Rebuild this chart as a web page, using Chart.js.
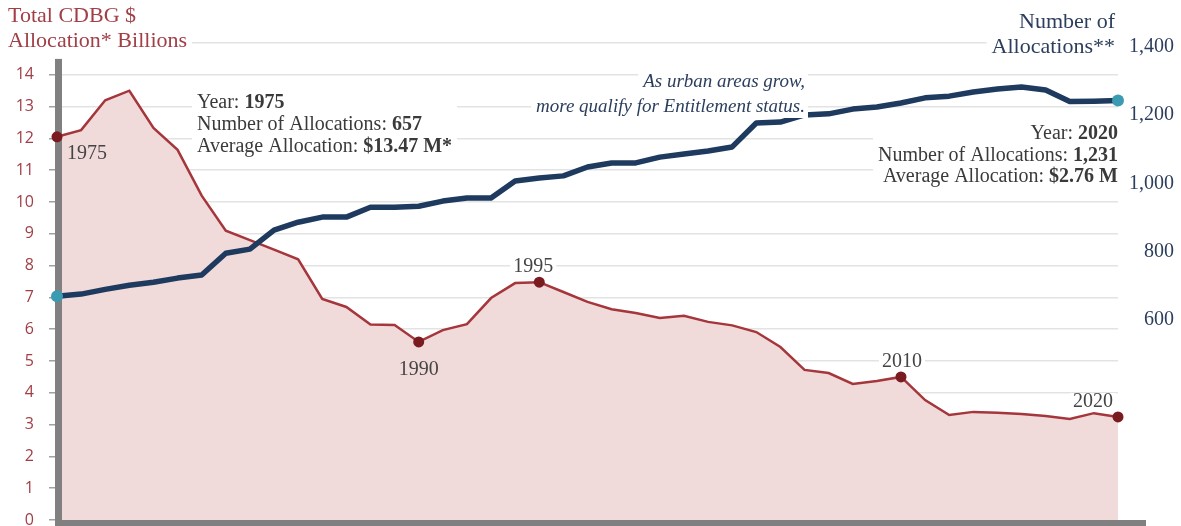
<!DOCTYPE html>
<html>
<head>
<meta charset="utf-8">
<script src="https://cdn.jsdelivr.net/npm/chart.js@4.4.1/dist/chart.umd.min.js"></script>
<style>
  html, body { margin: 0; padding: 0; background: #fff; }
</style>
</head>
<body>
<canvas id="cdbgChart" width="1181" height="526"></canvas>
<script>
// Datos (45 puntos, 1975-2020)
const years = [
  1975, 1976, 1977, 1978, 1979, 1980, 1981, 1982, 1983, 1984,
  1985, 1986, 1987, 1988, 1989, 1990, 1991, 1992, 1993, 1994,
  1995, 1996, 1997, 1998, 1999, 2000, 2001, 2002, 2003, 2004,
  2005, 2006, 2007, 2008, 2009, 2010, 2012, 2013, 2014, 2015,
  2016, 2017, 2018, 2019, 2020
];
const allocationBillions = [
  12.05, 12.26, 13.2, 13.5, 12.33, 11.64, 10.2, 9.1, 8.8, 8.5,
  8.2, 6.95, 6.7, 6.15, 6.13, 5.6, 5.97, 6.16, 6.98, 7.45,
  7.48, 7.17, 6.86, 6.63, 6.51, 6.35, 6.42, 6.23, 6.12, 5.91,
  5.44, 4.72, 4.62, 4.28, 4.37, 4.5, 3.77, 3.3, 3.4, 3.37,
  3.33, 3.27, 3.18, 3.36, 3.24
];
const allocationCount = [
  657, 663, 677, 689, 698, 710, 719, 783, 795, 851,
  874, 889, 889, 918, 918, 921, 936, 945, 945, 995,
  1004, 1010, 1036, 1048, 1048, 1065, 1074, 1083, 1095, 1165,
  1168, 1189, 1192, 1206, 1212, 1224, 1239, 1244, 1256, 1265,
  1271, 1262, 1228, 1229, 1231
];
const markedYears = [1975, 1990, 1995, 2010, 2020];
const countMarkedYears = [1975, 2020];
const leftTickMax = 14;
const rightTickMin = 600;

const SERIF = "'Liberation Serif', 'Times New Roman', serif";
const SANS = "'Open Sans', 'Noto Sans', sans-serif";

const Colors = {
    red: '#a5363b',
    redDot: '#7a1b20',
    pink: '#f1dada',
    navy: '#1e3a5f',
    cyan: '#3b9bb3',
    axisRed: '#a13e46',
    axisNavy: '#2c3e5d',
    text: '#3a3a3a',
    grid: '#e3e3e3',
    bar: '#808080'
};

const allocMarkers = years.map((y, i) => markedYears.includes(y) ? allocationBillions[i] : null);
const countMarkers = years.map((y, i) => countMarkedYears.includes(y) ? allocationCount[i] : null);

/**
 * Texto con partes en negrita
 */
function drawRich(ctx, parts, x, y, align, size) {
    const widths = parts.map(p => {
        ctx.font = (p[1] ? 'bold ' : '') + size + 'px ' + SERIF;
        return ctx.measureText(p[0]).width;
    });
    const total = widths.reduce((a, b) => a + b, 0);
    let cx = align === 'right' ? x - total : x;
    ctx.textAlign = 'left';
    parts.forEach((p, i) => {
        ctx.font = (p[1] ? 'bold ' : '') + size + 'px ' + SERIF;
        ctx.fillText(p[0], cx, y);
        cx += widths[i];
    });
    return total;
}

function textBlock(ctx, lines, x, y0, lineH, align, size, color, bg) {
    // medir primero para el fondo blanco
    let maxW = 0;
    lines.forEach(parts => {
        let w = 0;
        parts.forEach(p => {
            ctx.font = (p[1] ? 'bold ' : '') + size + 'px ' + SERIF;
            w += ctx.measureText(p[0]).width;
        });
        maxW = Math.max(maxW, w);
    });
    if (bg) {
        ctx.fillStyle = '#fff';
        const left = align === 'right' ? x - maxW - 5 : x - 5;
        ctx.fillRect(left, y0 - size * 0.95, maxW + 10, lineH * (lines.length - 1) + size * 1.35);
    }
    ctx.fillStyle = color;
    ctx.textBaseline = 'alphabetic';
    lines.forEach((parts, i) => drawRich(ctx, parts, x, y0 + i * lineH, align, size));
}

const annotationsPlugin = {
    id: 'annotations',
    afterDatasetDraw(chart, args) {
        if (args.index !== 3) return;
        // ejes gruesos grises, por encima del relleno
        const ctx = chart.ctx;
        const area = chart.chartArea;
        const yL = chart.scales.yL;
        ctx.save();
        ctx.fillStyle = Colors.bar;
        ctx.fillRect(area.left - 2, yL.getPixelForValue(14.5), 7, area.bottom + 6 - yL.getPixelForValue(14.5));
        ctx.fillRect(area.left - 2, area.bottom, area.right + 30 - area.left, 6);
        ctx.restore();
    },
    afterDatasetsDraw(chart) {
        const ctx = chart.ctx;
        const x = chart.scales.x;
        const yL = chart.scales.yL;
        ctx.save();

        // Títulos de ejes
        textBlock(ctx, [[['Total CDBG $', false]], [['Allocation* Billions', false]]],
            8, 22, 25, 'left', 22, Colors.axisRed, true);
        textBlock(ctx, [[['Number of', false]], [['Allocations**', false]]],
            1115, 28, 25, 'right', 22, Colors.axisNavy, true);

        // Cuadros de texto 1975 y 2020
        textBlock(ctx, [
            [['Year: ', false], ['1975', true]],
            [['Number of Allocations: ', false], ['657', true]],
            [['Average Allocation: ', false], ['$13.47 M*', true]]
        ], 197, 108, 22, 'left', 20, Colors.text, true);
        textBlock(ctx, [
            [['Year: ', false], ['2020', true]],
            [['Number of Allocations: ', false], ['1,231', true]],
            [['Average Allocation: ', false], ['$2.76 M', true]]
        ], 1118, 139, 21.5, 'right', 20, Colors.text, true);

        // Nota en cursiva
        ctx.font = 'italic 19px ' + SERIF;
        ctx.textAlign = 'right';
        ctx.textBaseline = 'alphabetic';
        ['As urban areas grow,', 'more qualify for Entitlement status.'].forEach((t, i) => {
            const w = ctx.measureText(t).width;
            const by = 87 + i * 25;
            ctx.fillStyle = '#fff';
            ctx.fillRect(805 - w - 5, by - 15, w + 8, 21);
            ctx.fillStyle = Colors.axisNavy;
            ctx.fillText(t, 805, by);
        });

        // Etiquetas de los puntos marcados
        const labelCfg = {
            1975: { dx: 10, dy: 17, align: 'left', bg: false },
            1990: { dx: 0, dy: 28, align: 'center', bg: false },
            1995: { dx: -6, dy: -15, align: 'center', bg: true },
            2010: { dx: 1, dy: -15, align: 'center', bg: true },
            2020: { dx: -25, dy: -15, align: 'center', bg: true }
        };
        ctx.font = '20px ' + SERIF;
        ctx.textBaseline = 'middle';
        markedYears.forEach(yr => {
            const i = years.indexOf(yr);
            const c = labelCfg[yr];
            const px = x.getPixelForValue(i) + c.dx;
            const py = yL.getPixelForValue(allocationBillions[i]) + c.dy;
            const t = String(yr);
            const w = ctx.measureText(t).width;
            if (c.bg) {
                const left = c.align === 'center' ? px - w / 2 : px;
                ctx.fillStyle = '#fff';
                ctx.fillRect(left - 3, py - 9, w + 6, 18);
            }
            ctx.fillStyle = '#444';
            ctx.textAlign = c.align;
            ctx.fillText(t, px, py);
        });
        ctx.restore();
    }
};

new Chart(document.getElementById('cdbgChart'), {
    type: 'line',
    data: {
        labels: years,
        datasets: [
            {
                label: 'count markers',
                data: countMarkers,
                yAxisID: 'yR',
                showLine: false,
                pointRadius: 6,
                pointBorderWidth: 0,
                pointBackgroundColor: Colors.cyan,
                clip: false,
                order: 0
            },
            {
                label: 'allocation markers',
                data: allocMarkers,
                yAxisID: 'yL',
                showLine: false,
                pointRadius: 5.5,
                pointBorderWidth: 0,
                pointBackgroundColor: Colors.redDot,
                clip: false,
                order: 0
            },
            {
                label: 'Number of Allocations',
                data: allocationCount,
                yAxisID: 'yR',
                borderColor: Colors.navy,
                borderWidth: 5.5,
                borderJoinStyle: 'round',
                borderCapStyle: 'round',
                pointRadius: 0,
                fill: false,
                clip: false,
                order: 1
            },
            {
                label: 'Total CDBG Allocation',
                data: allocationBillions,
                yAxisID: 'yL',
                borderColor: Colors.red,
                borderWidth: 2.5,
                backgroundColor: Colors.pink,
                fill: 'origin',
                pointRadius: 0,
                order: 2
            }
        ]
    },
    options: {
        responsive: false,
        animation: false,
        layout: { padding: { top: 43, bottom: 6, left: 0, right: 7 } },
        plugins: {
            legend: { display: false },
            tooltip: { enabled: false }
        },
        scales: {
            x: { type: 'category', display: false, offset: false },
            yL: {
                position: 'left',
                min: 0,
                max: 15,
                ticks: {
                    stepSize: 1,
                    color: Colors.axisRed,
                    font: { family: SANS, size: 16 },
                    padding: 15,
                    callback: v => v > leftTickMax ? '' : v
                },
                grid: {
                    color: Colors.grid,
                    lineWidth: 1.5,
                    tickLength: 8,
                    tickColor: c => c.tick && c.tick.value > leftTickMax ? 'rgba(0,0,0,0)' : '#a0a0a0'
                },
                border: { display: false },
                afterFit: s => { s.width = 57; s.paddingTop = 0; s.paddingBottom = 0; }
            },
            yR: {
                position: 'right',
                min: 0,
                max: 1400,
                ticks: {
                    stepSize: 200,
                    color: Colors.axisNavy,
                    font: { family: SERIF, size: 20 },
                    crossAlign: 'far',
                    labelOffset: 4,
                    callback: v => v >= rightTickMin ? v.toLocaleString('en-US') : ''
                },
                grid: { display: false },
                border: { display: false },
                afterFit: s => { s.width = 56; s.paddingTop = 0; s.paddingBottom = 0; }
            }
        }
    },
    plugins: [annotationsPlugin]
});
</script>
</body>
</html>
